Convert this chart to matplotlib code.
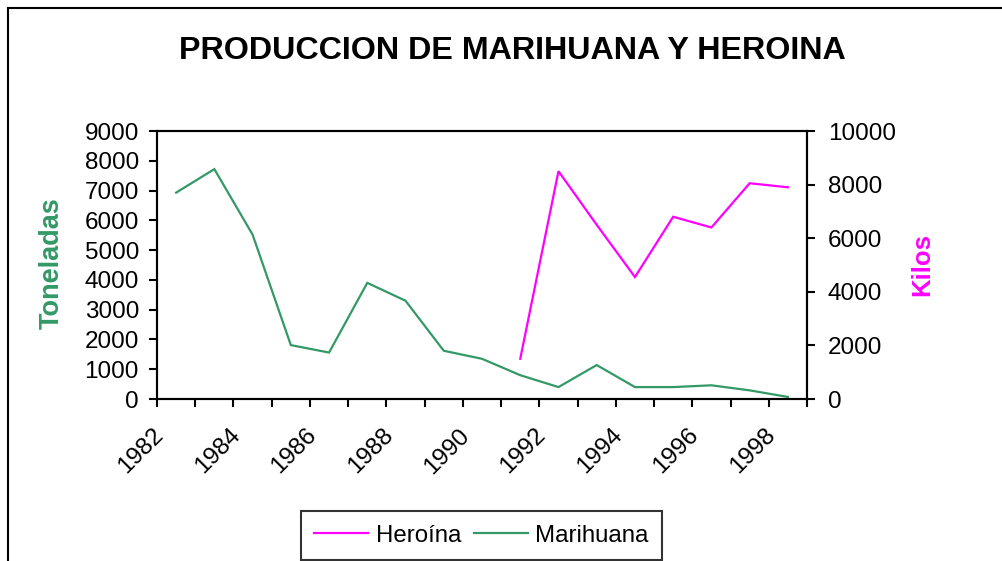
import matplotlib
matplotlib.use("Agg")
import matplotlib.pyplot as plt
from matplotlib.lines import Line2D
from matplotlib.transforms import ScaledTranslation

plt.rcParams['font.family'] = ['Liberation Sans', 'DejaVu Sans']

years = [1982, 1983, 1984, 1985, 1986, 1987, 1988, 1989, 1990,
         1991, 1992, 1993, 1994, 1995, 1996, 1997, 1998]
marihuana = [6930, 7720, 5520, 1810, 1560, 3900, 3300, 1620, 1350,
             800, 400, 1140, 400, 400, 460, 290, 70]
heroina = [None, None, None, None, None, None, None, None, None,
           1500, 8500, 6500, 4550, 6800, 6400, 8050, 7900]
left_ticks = [0, 1000, 2000, 3000, 4000, 5000, 6000, 7000, 8000, 9000]
right_ticks = [0, 2000, 4000, 6000, 8000, 10000]
label_years = [1982, 1984, 1986, 1988, 1990, 1992, 1994, 1996, 1998]

GREEN = '#339966'
MAGENTA = '#FF00FF'

W, H = 1002, 561
fig = plt.figure(figsize=(W / 100, H / 100), dpi=100)
ax = fig.add_axes([157 / W, 1 - 399 / H, 650 / W, 268 / H])
ax2 = ax.twinx()

xs = list(range(len(years)))
l_m, = ax.plot(xs, marihuana, color=GREEN, lw=1.6, solid_joinstyle='miter')
hx = [x for x, v in zip(xs, heroina) if v is not None]
hv = [v for v in heroina if v is not None]
l_h, = ax2.plot(hx, hv, color=MAGENTA, lw=1.6, solid_joinstyle='miter')

ax.set_xlim(-0.5, len(years) - 0.5)
ax.set_ylim(0, 9000)
ax2.set_ylim(0, 10000)

ax.set_yticks(left_ticks)
ax.set_yticklabels([str(t) for t in left_ticks])
ax2.set_yticks(right_ticks)
ax2.set_yticklabels([str(t) for t in right_ticks])

ax.set_xticks([x - 0.5 for x in xs] + [len(years) - 0.5])
ax.set_xticklabels([])

for a in (ax, ax2):
    for s in a.spines.values():
        s.set_linewidth(1.5)
        s.set_color('black')
ax.tick_params(axis='y', direction='out', length=6, width=1.5, pad=7, labelsize=17.5)
ax2.tick_params(axis='y', direction='out', length=6, width=1.5, pad=9, labelsize=17.5)
ax.tick_params(axis='x', direction='out', length=5.5, width=1.5)

off = ScaledTranslation(-16 / 100, -33 / 100, fig.dpi_scale_trans)
for y in label_years:
    i = years.index(y)
    ax.text(i, 0, str(y), transform=ax.get_xaxis_transform() + off,
            rotation=45, rotation_mode='anchor', ha='right', va='center',
            fontsize=17.5)

fig.text(512 / W, 1 - 51 / H, 'PRODUCCION DE MARIHUANA Y HEROINA',
         ha='center', va='center', fontsize=23.2, fontweight='bold')
fig.text(52 / W, 1 - 263 / H, 'Toneladas', rotation=90, ha='center',
         va='center', fontsize=19.5, fontweight='bold', color=GREEN)
fig.text(922 / W, 1 - 265 / H, 'Kilos', rotation=90, ha='center',
         va='center', fontsize=18.5, fontweight='bold', color=MAGENTA)

leg = fig.legend([l_h, l_m], ['Heroína', 'Marihuana'], ncol=2,
                 loc='center', bbox_to_anchor=(481.5 / W, 1 - 535.5 / H),
                 fontsize=17.3, frameon=True, fancybox=False,
                 handlelength=2.25, handletextpad=0.3, columnspacing=0.55,
                 borderpad=0.55)
leg.get_frame().set_edgecolor('black')
leg.get_frame().set_linewidth(1.5)

fig.add_artist(Line2D([8 / W, 1], [1 - 8 / H, 1 - 8 / H], color='black',
                      lw=1.5, transform=fig.transFigure))
fig.add_artist(Line2D([8 / W, 8 / W], [0, 1 - 8 / H], color='black',
                      lw=1.5, transform=fig.transFigure))

fig.savefig('out.png', dpi=100)
